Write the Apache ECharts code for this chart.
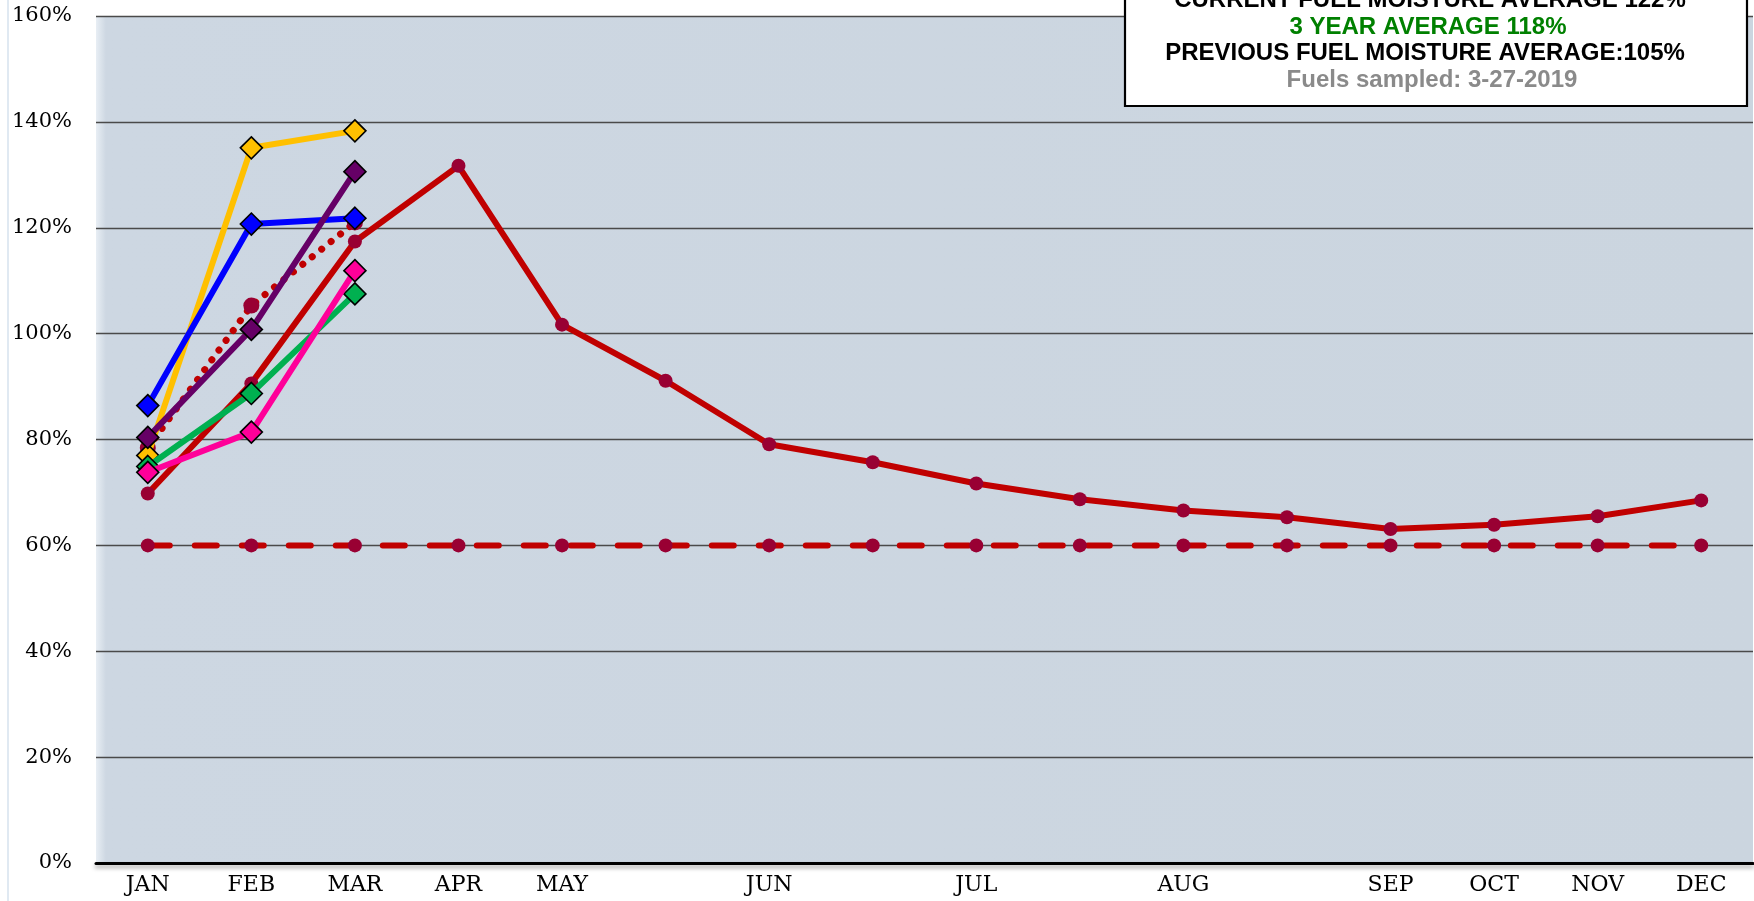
<!DOCTYPE html>
<html><head><meta charset="utf-8">
<script src="https://cdn.jsdelivr.net/npm/echarts@6/dist/echarts.min.js"></script>
<style>html,body{margin:0;padding:0;background:#fff}#c{width:1754px;height:901px}</style>
</head><body><div id="c"></div>
<script>
const months = ['JAN','FEB','MAR','APR','MAY','','JUN','','JUL','','AUG','','SEP','OCT','NOV','DEC'];
const previousYear = [69.8,90.6,117.4,131.7,101.7,91.1,79.1,75.7,71.7,68.7,66.6,65.3,63.1,63.9,65.5,68.5];
const criticalLevel = [60,60,60,60,60,60,60,60,60,60,60,60,60,60,60,60];
const threeYearAvg = [78.4,105.3,121.0];
const siteYellow = [77.0,135.1,138.3];
const siteBlue = [86.4,120.7,121.8];
const sitePurple = [80.4,100.8,130.6];
const siteGreen = [74.9,88.7,107.5];
const sitePink = [73.8,81.4,111.9];
const boxLines = ['CURRENT FUEL MOISTURE AVERAGE 122%','3 YEAR AVERAGE 118%','PREVIOUS FUEL MOISTURE AVERAGE:105%','Fuels sampled: 3-27-2019'];

const chart = echarts.init(document.getElementById('c'), null, {renderer:'canvas'});
const fontF = "'DejaVu Serif', serif";
const boxFont = "bold 24px 'Liberation Sans', Arial, sans-serif";
function site(name, data, color, z){
  return {name, type:'line', data, z, symbol:'diamond', symbolSize:22, showSymbol:true,
    lineStyle:{color, width:6}, itemStyle:{color, borderColor:'#000', borderWidth:1.6},
    emphasis:{disabled:true}};
}
const option = {
  animation:false,
  grid:{left:96, right:1, top:16, bottom:38, show:true, borderWidth:0,
    backgroundColor:{type:'linear',x:0,y:0,x2:1,y2:0,colorStops:[
      {offset:0,color:'#e8eef4'},{offset:0.006,color:'#cdd7e2'},{offset:1,color:'#cbd5df'}]}},
  xAxis:{type:'category', data:months, boundaryGap:true,
    axisLine:{lineStyle:{color:'#000', width:3, shadowColor:'rgba(0,0,0,0.35)', shadowBlur:4, shadowOffsetY:3}},
    axisTick:{inside:true, length:6, alignWithLabel:true, interval:0, lineStyle:{color:'#000', width:1.5}},
    axisLabel:{interval:0, color:'#000', fontFamily:fontF, fontSize:22, margin:11},
    splitLine:{show:false}},
  yAxis:{type:'value', min:0, max:160, interval:20,
    axisLine:{show:false}, axisTick:{show:false},
    axisLabel:{formatter:'{value}%', color:'#000', fontFamily:fontF, fontSize:21, margin:24},
    splitLine:{lineStyle:{color:'#4a4a4a', width:1.3}}},
  series:[
    {name:'Critical level', type:'line', data:criticalLevel, z:2, symbol:'circle', symbolSize:14,
      lineStyle:{color:'#c00000', width:6, type:[22,25], cap:'round'}, itemStyle:{color:'#990033'}},
    {name:'Previous year', type:'line', data:previousYear, z:3, symbol:'circle', symbolSize:14,
      lineStyle:{color:'#c00000', width:6}, itemStyle:{color:'#990033'}},
    {name:'3 year average', type:'line', data:threeYearAvg, z:4, symbol:'circle', symbolSize:16,
      lineStyle:{color:'#c00000', width:7, type:[0.1,12], cap:'round'}, itemStyle:{color:'#990033'}},
    site('Site 1', siteYellow, '#ffc000', 5),
    site('Site 2', siteBlue, '#0000ff', 6),
    site('Site 3', sitePurple, '#660066', 7),
    site('Site 4', siteGreen, '#00b050', 8),
    site('Site 5', sitePink, '#ff0099', 9)
  ],
  graphic:[
    {type:'line', shape:{x1:8,y1:0,x2:8,y2:901}, style:{stroke:'#d6e2ee', lineWidth:1.5}},
    {type:'rect', shape:{x:1125,y:-20,width:622,height:126}, style:{fill:'#fff', stroke:'#000', lineWidth:2.2}, z:100},
    {type:'text', x:1430, y:0, z:101, style:{text:boxLines[0], fill:'#000', font:boxFont, align:'center', verticalAlign:'middle'}},
    {type:'text', x:1428, y:27, z:101, style:{text:boxLines[1], fill:'#008000', font:boxFont, align:'center', verticalAlign:'middle'}},
    {type:'text', x:1425, y:53, z:101, style:{text:boxLines[2], fill:'#000', font:boxFont, align:'center', verticalAlign:'middle'}},
    {type:'text', x:1432, y:80, z:101, style:{text:boxLines[3], fill:'#8a8a8a', font:boxFont, align:'center', verticalAlign:'middle'}}
  ]
};
chart.setOption(option);
</script></body></html>
